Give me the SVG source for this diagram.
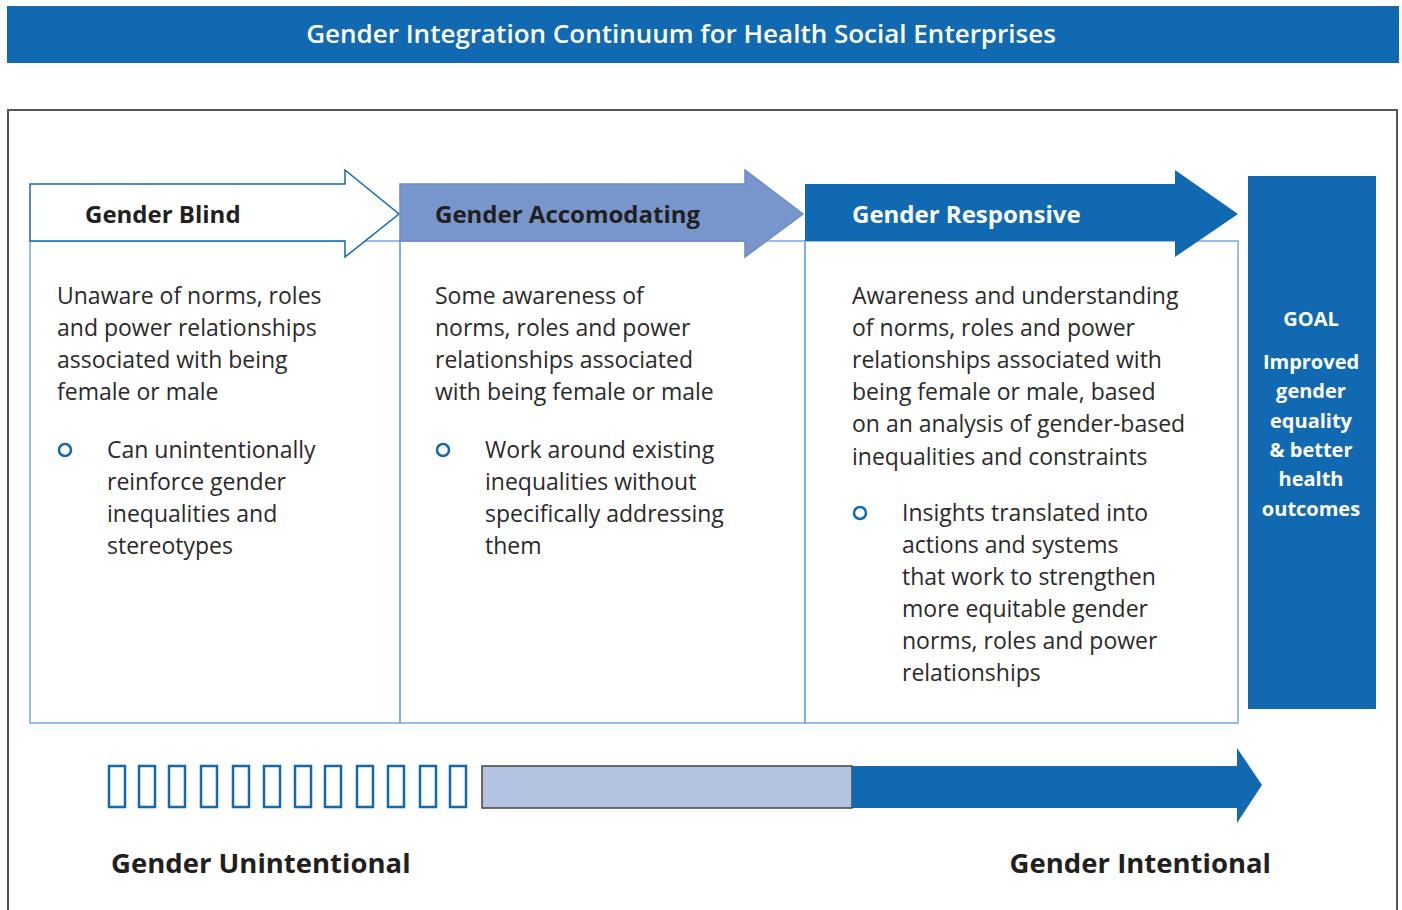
<svg xmlns="http://www.w3.org/2000/svg" width="1402" height="910" viewBox="0 0 1402 910">
<style>
text{font-family:"Open Sans","Noto Sans","Liberation Sans",sans-serif}
.t{fill:#2b2a2b;font-size:23px}
.h{font-weight:bold;font-size:24px}
.g{font-weight:bold;fill:#fff;font-size:20px;text-anchor:middle}
.panel{fill:none;stroke:#78a9dc;stroke-width:1.5}
.bul{fill:none;stroke:#116ab1;stroke-width:2.5}
.seg{fill:#fff;stroke:#116ab1;stroke-width:2.5}
</style>
<rect width="1402" height="910" fill="#fff"/>
<g id="title">
<rect x="7" y="6" width="1392" height="57" fill="#116ab1"/>
<text x="681" y="43" font-size="26" font-weight="600" fill="#fff" text-anchor="middle">Gender Integration Continuum for Health Social Enterprises</text>
</g>
<path d="M8 910 V110 H1397 V910" fill="none" stroke="#555" stroke-width="2"/>
<g id="gender-blind">
<rect class="panel" x="30" y="241" width="370" height="482"/>
<polygon points="30,184 345,184 345,170 399,214 345,257 345,241 30,241" fill="#fff" stroke="#116ab1" stroke-width="1.5"/>
<text class="h" x="85" y="223" fill="#231f20">Gender Blind</text>
<text class="t" x="57" y="304">Unaware of norms, roles</text>
<text class="t" x="57" y="336">and power relationships</text>
<text class="t" x="57" y="368">associated with being</text>
<text class="t" x="57" y="400">female or male</text>
<circle class="bul" cx="65" cy="450" r="6"/>
<text class="t" x="107" y="458">Can unintentionally</text>
<text class="t" x="107" y="490">reinforce gender</text>
<text class="t" x="107" y="522">inequalities and</text>
<text class="t" x="107" y="554">stereotypes</text>
</g>
<g id="gender-accomodating">
<rect class="panel" x="400" y="241" width="405" height="482"/>
<polygon points="400,184 745,184 745,170 803,214 745,257 745,241 400,241" fill="#7896cb" stroke="#6a8cc6" stroke-width="1.5"/>
<text class="h" x="435" y="223" fill="#231f20">Gender Accomodating</text>
<text class="t" x="435" y="304">Some awareness of</text>
<text class="t" x="435" y="336">norms, roles and power</text>
<text class="t" x="435" y="368">relationships associated</text>
<text class="t" x="435" y="400">with being female or male</text>
<circle class="bul" cx="443" cy="450" r="6"/>
<text class="t" x="485" y="458">Work around existing</text>
<text class="t" x="485" y="490">inequalities without</text>
<text class="t" x="485" y="522">specifically addressing</text>
<text class="t" x="485" y="554">them</text>
</g>
<g id="gender-responsive">
<rect class="panel" x="805" y="241" width="433" height="482"/>
<polygon points="805,184 1175,184 1175,170 1238,214 1175,257 1175,241 805,241" fill="#116ab1"/>
<text class="h" x="852" y="223" fill="#fff">Gender Responsive</text>
<text class="t" x="852" y="304">Awareness and understanding</text>
<text class="t" x="852" y="336">of norms, roles and power</text>
<text class="t" x="852" y="368">relationships associated with</text>
<text class="t" x="852" y="400">being female or male, based</text>
<text class="t" x="852" y="432">on an analysis of gender-based</text>
<text class="t" x="852" y="465">inequalities and constraints</text>
<circle class="bul" cx="860" cy="513" r="6"/>
<text class="t" x="902" y="521">Insights translated into</text>
<text class="t" x="902" y="553">actions and systems</text>
<text class="t" x="902" y="585">that work to strengthen</text>
<text class="t" x="902" y="617">more equitable gender</text>
<text class="t" x="902" y="649">norms, roles and power</text>
<text class="t" x="902" y="681">relationships</text>
</g>
<g id="goal">
<rect x="1248" y="176" width="128" height="533" fill="#116ab1"/>
<text class="g" x="1311" y="326" font-size="22">GOAL</text>
<text class="g" x="1311" y="369">Improved</text>
<text class="g" x="1311" y="398">gender</text>
<text class="g" x="1311" y="428">equality</text>
<text class="g" x="1311" y="457">&amp; better</text>
<text class="g" x="1311" y="486">health</text>
<text class="g" x="1311" y="516">outcomes</text>
</g>
<g id="continuum">
<rect class="seg" x="109" y="766" width="16" height="41"/>
<rect class="seg" x="139" y="766" width="16" height="41"/>
<rect class="seg" x="169" y="766" width="16" height="41"/>
<rect class="seg" x="201" y="766" width="16" height="41"/>
<rect class="seg" x="233" y="766" width="16" height="41"/>
<rect class="seg" x="264" y="766" width="16" height="41"/>
<rect class="seg" x="295" y="766" width="16" height="41"/>
<rect class="seg" x="325" y="766" width="16" height="41"/>
<rect class="seg" x="357" y="766" width="16" height="41"/>
<rect class="seg" x="388" y="766" width="16" height="41"/>
<rect class="seg" x="420" y="766" width="16" height="41"/>
<rect class="seg" x="450" y="766" width="16" height="41"/>
<rect x="482" y="766" width="370" height="42" fill="#b3c3e1" stroke="#444" stroke-width="1.5"/>
<polygon points="852,766 1237,766 1237,748 1262,785 1237,823 1237,808 852,808" fill="#116ab1"/>
<text x="111" y="873" font-weight="bold" font-size="27.5" fill="#231f20">Gender Unintentional</text>
<text x="1271" y="873" font-weight="bold" font-size="27.5" fill="#231f20" text-anchor="end">Gender Intentional</text>
</g>
</svg>
